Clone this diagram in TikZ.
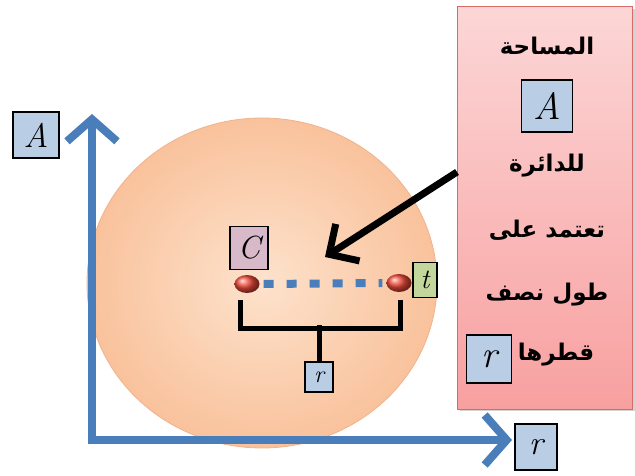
\documentclass[tikz,border=0pt]{standalone}
\usepackage{fontspec}
\newfontfamily\arabicfont[Script=Arabic]{DejaVu Sans}
\TeXXeTstate=1
\usetikzlibrary{arrows.meta,shadows,shapes.geometric}

\definecolor{axisblue}{HTML}{4A7EBB}
\definecolor{tagblue}{HTML}{B9CDE5}
\definecolor{tagmauve}{HTML}{D8B9C9}
\definecolor{taggreen}{HTML}{C3D69B}
\definecolor{notetop}{HTML}{FCD6D6}
\definecolor{notebottom}{HTML}{F8A0A0}
\definecolor{noteedge}{HTML}{D96A6A}
\definecolor{discin}{HTML}{FDE2CC}
\definecolor{discout}{HTML}{F9C29C}
\definecolor{discedge}{HTML}{EFB48E}
\definecolor{dotred}{HTML}{F04A3A}

\tikzset{
  tag/.style={draw=black, line width=1.1pt, fill=tagblue, inner sep=0pt,
    font=\fontsize{34}{34}\selectfont\itshape},
  arabic/.style={font=\arabicfont\bfseries\fontsize{23}{26}\selectfont, inner sep=0pt},
  endpoint/.style={ellipse, shading=ball, ball color=dotred,
    minimum width=25pt, minimum height=18pt, inner sep=0pt},
  axisline/.style={draw=axisblue, line width=8pt,
    {Straight Barb[length=22pt,width=50pt]}-{Straight Barb[length=22pt,width=50pt]}},
  pointer/.style={draw=black, line width=7pt, -{Straight Barb[length=22pt,width=44pt]}},
  brace/.style={draw=black, line width=5pt},
}

\begin{document}
\begin{tikzpicture}[x=1pt,y=-1pt]
\useasboundingbox (0,0) rectangle (635,476);

% the disc
\shade[inner color=discin, outer color=discout] (262,283) ellipse [x radius=175pt, y radius=165pt];
\draw[discedge, line width=0.8pt] (262,283) ellipse [x radius=175pt, y radius=165pt];

% axes
\coordinate (ytip) at (92,114);
\coordinate (xtip) at (512,440);
\draw[axisline] (ytip) |- (xtip);
\node[tag, minimum width=46pt, minimum height=46pt] (alabel) at (36,135) {A};
\node[tag, minimum width=42pt, minimum height=46pt] (rlabel) at (536,447) {r};

% radius
\node[endpoint] (cpt) at (247,284) {};
\node[endpoint] (tpt) at (399,283) {};
\draw[axisblue, line width=8pt, dash pattern=on 10pt off 13pt] ([xshift=4pt]cpt.east) -- ([xshift=-4pt]tpt.west);
\node[tag, fill=tagmauve, minimum width=38pt, minimum height=43pt, font=\fontsize{32}{32}\selectfont\itshape] (cname) at (249,248) {C};
\node[tag, fill=taggreen, minimum width=24pt, minimum height=35pt, font=\fontsize{28}{28}\selectfont\itshape] (tname) at (425,280) {t};
\node[tag, minimum width=28pt, minimum height=30pt, font=\fontsize{24}{24}\selectfont\itshape] (rname) at (319,377) {r};
\draw[brace] (240,300) -- (240,328) -- (400,328) -- (400,300);
\draw[brace] (rname.north) -- ++(0,-36);

% note
\coordinate (aim) at (325,257);
\node[draw=noteedge, line width=1pt, top color=notetop, bottom color=notebottom,
  minimum width=175pt, minimum height=402pt, drop shadow={opacity=0.35}] (note) at (545,208) {};
\draw[pointer] ([yshift=36pt]note.west) -- (aim);

\node[arabic] (line1) at (547,46) {\beginR المساحة\endR};
\node[tag, minimum width=51pt, minimum height=52pt, font=\fontsize{38}{38}\selectfont\itshape] (anote) at (547,106) {A};
\node[arabic] (line2) at (547,166) {\beginR للدائرة\endR};
\node[arabic] (line3) at (547,230) {\beginR تعتمد على\endR};
\node[arabic] (line4) at (547,295) {\beginR طول نصف\endR};
\node[arabic] (line5) at (556,355) {\beginR قطرها\endR};
\node[tag, minimum width=45pt, minimum height=48pt, font=\fontsize{38}{38}\selectfont\itshape] (rnote) at (489,359) {r};
\end{tikzpicture}
\end{document}
